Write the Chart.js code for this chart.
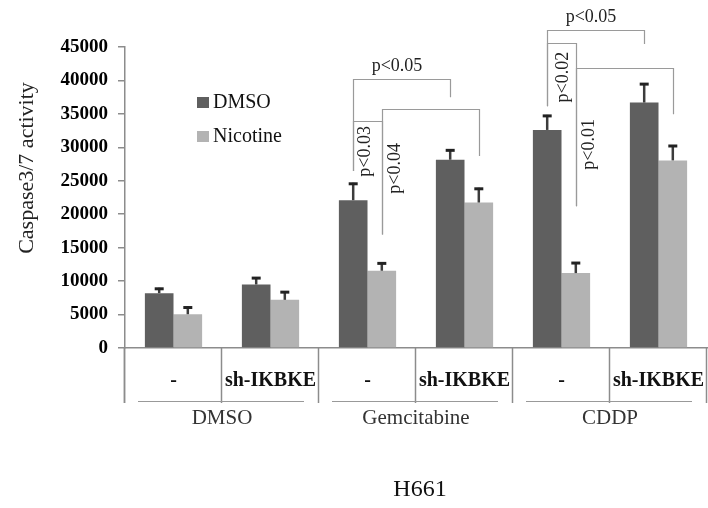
<!DOCTYPE html>
<html>
<head>
<meta charset="utf-8">
<script src="https://cdn.jsdelivr.net/npm/chart.js@4/dist/chart.umd.min.js"></script>
<style>
  body { margin: 0; background: #fff; }
  #wrap { width: 708px; height: 508px; position: relative; }
</style>
</head>
<body>
<div id="wrap"><canvas id="caspaseChart"></canvas></div>
<script>
// data
const categories = ['-', 'sh-IKBKE', '-', 'sh-IKBKE', '-', 'sh-IKBKE'];
const groups = ['DMSO', 'Gemcitabine', 'CDDP'];
const dmso = [8200, 9500, 22100, 28150, 32600, 36700];
const dmsoErr = [800, 1100, 2600, 1550, 2250, 2900];
const nicotine = [5050, 7200, 11550, 21750, 11200, 28050];
const nicotineErr = [1150, 1300, 1250, 2200, 1650, 2300];
const yMax = 45000;
const yStep = 5000;

// significance brackets: [category, dataset] for each leg, values in data units
const brackets = [
  { from: [2, 0], to: [3, 0], top: 40200, ends: [26450, 37500], text: 'p<0.05', mode: 'top', labelY: 42150 },
  { from: [2, 0], to: [2, 1], top: 33950, ends: [26450, 16950], text: 'p<0.03', mode: 'side', labelY: 29400, dx: 12 },
  { from: [2, 1], to: [3, 1], top: 35800, ends: [16950, 28700], text: 'p<0.04', mode: 'side', labelY: 26850, dx: 13 },
  { from: [4, 0], to: [5, 0], top: 47600, ends: [36150, 45450], text: 'p<0.05', mode: 'top', labelY: 49500 },
  { from: [4, 0], to: [4, 1], top: 45600, ends: [36150, 21200], text: 'p<0.02', mode: 'side', labelY: 40500, dx: 16 },
  { from: [4, 1], to: [5, 1], top: 41800, ends: [21200, 34950], text: 'p<0.01', mode: 'side', labelY: 30450, dx: 13 }
];

const SERIF = '"Liberation Serif", "Times New Roman", serif';
const errors = [dmsoErr, nicotineErr];

const extras = {
  id: 'extras',
  afterDatasetsDraw(chart) {
    const ctx = chart.ctx;
    const y = chart.scales.y;
    ctx.save();
    // error bars
    errors.forEach((errArr, d) => {
      const meta = chart.getDatasetMeta(d);
      meta.data.forEach((bar, i) => {
        const v = chart.data.datasets[d].data[i];
        const yTop = y.getPixelForValue(v + errArr[i]);
        ctx.strokeStyle = '#3c3c3c';
        ctx.lineWidth = 2.5;
        ctx.beginPath();
        ctx.moveTo(bar.x, bar.y);
        ctx.lineTo(bar.x, yTop);
        ctx.stroke();
        ctx.strokeStyle = '#222';
        ctx.lineWidth = 3;
        ctx.beginPath();
        ctx.moveTo(bar.x - 4.5, yTop + 1);
        ctx.lineTo(bar.x + 4.5, yTop + 1);
        ctx.stroke();
      });
    });
    ctx.restore();
  },
  afterDraw(chart) {
    const ctx = chart.ctx;
    const x = chart.scales.x;
    const y = chart.scales.y;
    const area = chart.chartArea;
    const catW = (area.right - area.left) / categories.length;
    const lowBottom = area.bottom + 55;
    ctx.save();

    // multi-level category axis
    ctx.strokeStyle = '#8c8c8c';
    ctx.lineWidth = 1.5;
    for (let i = 0; i <= categories.length; i++) {
      const px = Math.round(area.left + i * catW) - 0.5;
      ctx.beginPath();
      ctx.moveTo(px, area.bottom);
      ctx.lineTo(px, lowBottom);
      ctx.stroke();
    }
    ctx.fillStyle = '#111';
    ctx.font = 'bold 20px ' + SERIF;
    ctx.textAlign = 'center';
    ctx.textBaseline = 'middle';
    categories.forEach((c, i) => {
      ctx.fillText(c, x.getPixelForValue(i), area.bottom + 33);
    });
    ctx.lineWidth = 1;
    ctx.strokeStyle = '#999';
    ctx.fillStyle = '#333';
    ctx.font = '21px ' + SERIF;
    groups.forEach((g, k) => {
      const gl = area.left + 2 * k * catW;
      const gr = gl + 2 * catW;
      ctx.beginPath();
      ctx.moveTo(gl + 13, area.bottom + 53.5);
      ctx.lineTo(gr - 15, area.bottom + 53.5);
      ctx.stroke();
      ctx.fillText(g, (gl + gr) / 2, area.bottom + 70);
    });

    // x axis title
    ctx.fillStyle = '#111';
    ctx.font = '24px ' + SERIF;
    ctx.fillText('H661', 420, 490);

    // y axis title
    ctx.save();
    ctx.translate(27, 168);
    ctx.rotate(-Math.PI / 2);
    ctx.font = '22px ' + SERIF;
    ctx.fillStyle = '#222';
    ctx.fillText('Caspase3/7 activity', 0, 0);
    ctx.restore();

    // legend
    ctx.textAlign = 'left';
    ctx.font = '20px ' + SERIF;
    chart.data.datasets.forEach((ds, d) => {
      const ly = 102.5 + d * 34;
      ctx.fillStyle = ds.backgroundColor;
      ctx.fillRect(197, ly - 5.5, 12, 11);
      ctx.fillStyle = '#111';
      ctx.fillText(ds.label, 213, ly);
    });

    // brackets
    const legX = (p) => chart.getDatasetMeta(p[1]).data[p[0]].x;
    ctx.strokeStyle = '#9a9a9a';
    ctx.lineWidth = 1.2;
    ctx.fillStyle = '#222';
    ctx.font = '18px ' + SERIF;
    brackets.forEach(b => {
      const x1 = Math.round(legX(b.from)) + 0.5;
      const x2 = Math.round(legX(b.to)) + 0.5;
      const yt = Math.round(y.getPixelForValue(b.top)) + 0.5;
      ctx.beginPath();
      ctx.moveTo(x1, y.getPixelForValue(b.ends[0]));
      ctx.lineTo(x1, yt);
      ctx.lineTo(x2, yt);
      ctx.lineTo(x2, y.getPixelForValue(b.ends[1]));
      ctx.stroke();
      const ty = y.getPixelForValue(b.labelY);
      if (b.mode === 'top') {
        ctx.textAlign = 'center';
        ctx.fillText(b.text, (x1 + x2) / 2 - 5, ty);
      } else {
        ctx.save();
        ctx.translate(x1 + b.dx, ty);
        ctx.rotate(-Math.PI / 2);
        ctx.textAlign = 'center';
        ctx.fillText(b.text, 0, 0);
        ctx.restore();
      }
    });

    // y axis line continues through the category rows
    ctx.strokeStyle = '#8c8c8c';
    ctx.lineWidth = 1.5;
    ctx.beginPath();
    ctx.moveTo(area.left - 0.5, area.bottom);
    ctx.lineTo(area.left - 0.5, lowBottom);
    ctx.stroke();
    ctx.restore();
  }
};

new Chart(document.getElementById('caspaseChart'), {
  type: 'bar',
  data: {
    labels: categories,
    datasets: [
      { label: 'DMSO', data: dmso, backgroundColor: '#5f5f5f' },
      { label: 'Nicotine', data: nicotine, backgroundColor: '#b3b3b3' }
    ]
  },
  options: {
    responsive: true,
    maintainAspectRatio: false,
    animation: false,
    layout: { padding: { left: 0, top: 47, right: 1, bottom: 0 } },
    datasets: { bar: { categoryPercentage: 0.59, barPercentage: 1 } },
    plugins: {
      legend: { display: false },
      tooltip: { enabled: false }
    },
    scales: {
      x: {
        ticks: { display: false },
        grid: { display: false },
        border: { display: true, color: '#8c8c8c', width: 1.5 },
        afterFit: (s) => { s.height = 160; }
      },
      y: {
        min: 0,
        max: yMax,
        ticks: {
          stepSize: yStep,
          color: '#000',
          padding: 10,
          font: { family: SERIF, size: 19, weight: 'bold' },
          callback: (v) => String(v)
        },
        grid: { drawOnChartArea: false, tickLength: 7, color: '#8c8c8c', lineWidth: 1.5 },
        border: { display: true, color: '#8c8c8c', width: 1.5 },
        afterFit: (s) => { s.width = 125; }
      }
    }
  },
  plugins: [extras]
});
</script>
</body>
</html>
